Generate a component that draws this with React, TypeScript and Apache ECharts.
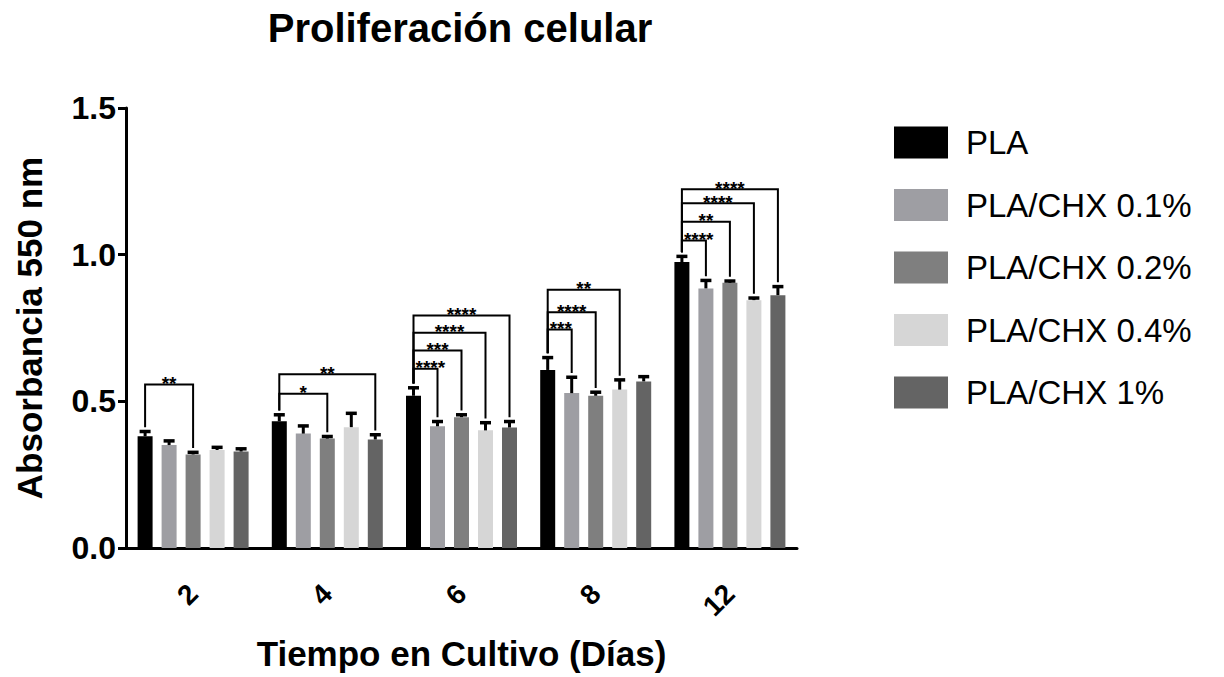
import React, { useEffect, useRef } from "react";
import * as echarts from "echarts";

// Culture time points (days)
const days = ["2", "4", "6", "8", "12"];

// Groups
const groupNames = ["PLA", "PLA/CHX 0.1%", "PLA/CHX 0.2%", "PLA/CHX 0.4%", "PLA/CHX 1%"];
const groupColors = ["#000000", "#9e9ea3", "#7f7f7f", "#d6d6d6", "#646464"];

// Mean absorbance at 550 nm per group
const meanPLA = [0.381, 0.432, 0.519, 0.607, 0.975];
const meanCHX01 = [0.351, 0.39, 0.415, 0.528, 0.885];
const meanCHX02 = [0.319, 0.373, 0.446, 0.519, 0.904];
const meanCHX04 = [0.334, 0.412, 0.401, 0.54, 0.845];
const meanCHX1 = [0.329, 0.37, 0.411, 0.568, 0.862];

// Standard deviation per group
const sdPLA = [0.017, 0.023, 0.028, 0.043, 0.02];
const sdCHX01 = [0.015, 0.027, 0.017, 0.055, 0.028];
const sdCHX02 = [0.008, 0.008, 0.009, 0.013, 0.007];
const sdCHX04 = [0.01, 0.048, 0.027, 0.034, 0.008];
const sdCHX1 = [0.01, 0.017, 0.021, 0.017, 0.03];

// Significance brackets: PLA vs. a CHX group on a given day
const bracketDay = [0, 1, 1, 2, 2, 2, 2, 3, 3, 3, 4, 4, 4, 4];
const bracketTarget = [2, 2, 4, 1, 2, 3, 4, 1, 2, 3, 1, 2, 3, 4];
const bracketLevel = [0.557, 0.526, 0.592, 0.611, 0.673, 0.734, 0.793, 0.745, 0.804, 0.88, 1.048, 1.112, 1.175, 1.223];
const bracketStars = ["**", "*", "**", "****", "***", "****", "****", "***", "****", "**", "****", "**", "****", "****"];

// Y axis ticks
const yMin = 0;
const yMax = 1.5;
const yStep = 0.5;

const means = [meanPLA, meanCHX01, meanCHX02, meanCHX04, meanCHX1];
const sds = [sdPLA, sdCHX01, sdCHX02, sdCHX04, sdCHX1];

const FONT = "'Liberation Sans', Arial, Helvetica, sans-serif";
const BAR_W = 15;
const BAR_GAP = 9;
const PITCH = BAR_W + BAR_GAP;
const LEG_GAP = 4;
const STAR_SIZE = 19;

export default function App() {
  const ref = useRef<HTMLDivElement | null>(null);

  useEffect(() => {
    if (!ref.current) return;
    const chart = echarts.init(ref.current, undefined, { renderer: "svg" });

    const barSeries = groupNames.map((name, s) => ({
      name,
      type: "bar",
      data: means[s],
      barWidth: BAR_W,
      barGap: `${(BAR_GAP / BAR_W) * 100}%`,
      itemStyle: { color: groupColors[s] },
      z: 2,
    }));

    const errData: number[][] = [];
    means.forEach((arr, s) => arr.forEach((m, d) => errData.push([d, m, sds[s][d], s])));

    const errorSeries = {
      type: "custom",
      name: "sd",
      z: 4,
      clip: false,
      silent: true,
      data: errData,
      encode: { x: 0, y: 1 },
      renderItem: (_params: any, api: any) => {
        const d = api.value(0);
        const m = api.value(1);
        const e = api.value(2);
        const s = api.value(3);
        const base = api.coord([d, m]);
        const top = api.coord([d, m + e]);
        const x = base[0] + (s - 2) * PITCH;
        return {
          type: "group",
          children: [
            {
              type: "line",
              shape: { x1: x, y1: base[1], x2: x, y2: top[1] },
              style: { stroke: "#000", lineWidth: 3 },
            },
            {
              type: "rect",
              shape: { x: x - 5.5, y: top[1] - 1.5, width: 11, height: 3.5 },
              style: { fill: "#000" },
            },
          ],
        };
      },
    };

    const bracketSeries = {
      type: "custom",
      name: "sig",
      z: 5,
      clip: false,
      silent: true,
      data: bracketDay.map((d, i) => [d, bracketLevel[i], i]),
      encode: { x: 0, y: 1 },
      renderItem: (_params: any, api: any) => {
        const i = api.value(2);
        const d = bracketDay[i];
        const t = bracketTarget[i];
        const c = api.coord([d, bracketLevel[i]]);
        const xL = c[0] - 2 * PITCH;
        const xR = c[0] + (t - 2) * PITCH;
        const yLine = c[1];
        const yL = api.coord([d, means[0][d] + sds[0][d]])[1] - LEG_GAP;
        const yR = api.coord([d, means[t][d] + sds[t][d]])[1] - LEG_GAP;
        const label = bracketStars[i];
        const w = label.length * STAR_SIZE * 0.389;
        const tx = Math.max((xL + xR) / 2, xL + w / 2 + 2);
        return {
          type: "group",
          children: [
            {
              type: "polyline",
              shape: { points: [[xL, yL], [xL, yLine], [xR, yLine], [xR, yR]] },
              style: { stroke: "#000", lineWidth: 2, fill: "none" },
            },
            {
              type: "text",
              style: {
                text: label,
                x: tx,
                y: yLine - 1,
                align: "center",
                verticalAlign: "middle",
                fontSize: STAR_SIZE,
                fontWeight: "bold",
                lineHeight: 10,
                fontFamily: FONT,
                fill: "#000",
              },
            },
          ],
        };
      },
    };

    chart.setOption({
      animation: false,
      backgroundColor: "#ffffff",
      grid: {
        left: 126,
        right: 427,
        top: 108,
        bottom: 129,
        containLabel: false,
        outerBoundsMode: "none",
      },
      graphic: [
        {
          type: "text",
          x: 460,
          y: 28,
          style: {
            text: "Proliferación celular",
            fontSize: 40,
            fontWeight: "bold",
            fontFamily: FONT,
            fill: "#000",
            align: "center",
            verticalAlign: "middle",
          },
        },
      ],
      legend: {
        orient: "vertical",
        left: 889,
        top: 121,
        itemWidth: 54,
        itemHeight: 32,
        itemGap: 29.5,
        icon: "rect",
        data: groupNames,
        textStyle: {
          fontSize: 33,
          fontFamily: FONT,
          color: "#000",
          lineHeight: 32,
          padding: [0, 0, 0, 13],
        },
      },
      xAxis: {
        type: "category",
        data: days,
        name: "Tiempo en Cultivo (Días)",
        nameLocation: "middle",
        nameGap: 88,
        nameTextStyle: { fontSize: 35, fontWeight: "bold", fontFamily: FONT, color: "#000" },
        axisLine: { lineStyle: { color: "#000", width: 3 } },
        axisTick: { alignWithLabel: true, length: 6, lineStyle: { color: "#000", width: 3 } },
        axisLabel: {
          rotate: 45,
          margin: 41,
          fontSize: 28,
          fontWeight: "bold",
          fontFamily: FONT,
          color: "#000",
        },
        splitLine: { show: false },
      },
      yAxis: {
        type: "value",
        min: yMin,
        max: yMax,
        interval: yStep,
        name: "Absorbancia 550 nm",
        nameLocation: "middle",
        nameGap: 79,
        nameTextStyle: { fontSize: 35, fontWeight: "bold", fontFamily: FONT, color: "#000" },
        axisLine: { show: true, lineStyle: { color: "#000", width: 3 } },
        axisTick: { show: true, length: 8, lineStyle: { color: "#000", width: 3 } },
        axisLabel: {
          margin: 10,
          fontSize: 32,
          fontWeight: "bold",
          fontFamily: FONT,
          color: "#000",
          formatter: (v: number) => v.toFixed(1),
        },
        splitLine: { show: false },
      },
      series: [...barSeries, errorSeries, bracketSeries],
    });

    return () => chart.dispose();
  }, []);

  return (
    <div
      ref={ref}
      style={{ position: "fixed", left: 0, top: 0, width: 1224, height: 677, background: "#fff" }}
    />
  );
}
